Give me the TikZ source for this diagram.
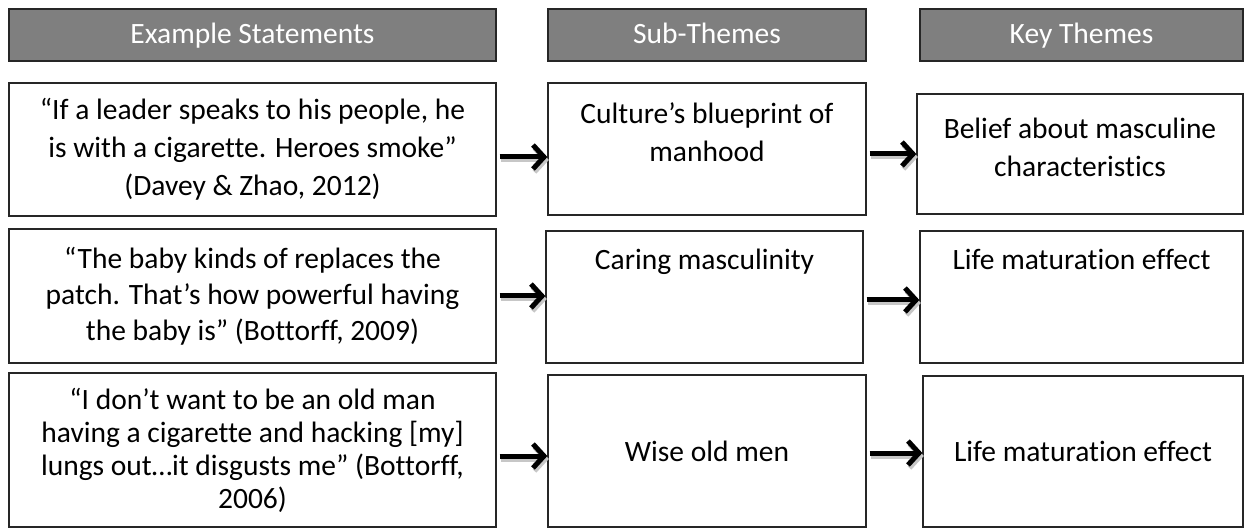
\documentclass[tikz,border=0pt]{standalone}
\usepackage{fontspec}
\setmainfont{Carlito}[Ligatures=NoCommon]
\usetikzlibrary{arrows.meta}
\definecolor{headgray}{HTML}{7F7F7F}
\definecolor{edgegray}{HTML}{262626}

\begin{document}
\begin{tikzpicture}[x=1pt, y=-1pt,
    box/.style={draw=edgegray, line width=1.3pt, rectangle, inner sep=0pt, align=center, font=\fontsize{29.5}{38}\selectfont},
    head/.style={box, fill=headgray, text=white, minimum height=52pt, text height=21.5pt, text depth=4.5pt, font=\fontsize{29.5}{32}\selectfont},
    txt/.style={inner sep=0pt, align=center, anchor=north, font=\fontsize{29.5}{38}\selectfont},
    arr/.style={line width=5pt, -{Straight Barb[length=11pt, width=24pt]}},
    arrshade/.style={arr, black!22}]
    \useasboundingbox (0,0) rectangle (1245,529);

    % --- column heads ---
    \node[head, minimum width=487pt] (h1) at (252.5,35) {Example Statements};
    \node[head, minimum width=318pt] (h2) at (707,35) {Sub-Themes};
    \node[head, minimum width=323pt] (h3) at (1081.5,35) {Key Themes};

    % --- row 1 ---
    \node[box, minimum width=487pt, minimum height=133pt] (s1) at (252.5,149.5)
        {“If a leader speaks to his people, he\\is with a cigarette. Heroes smoke”\\(Davey \& Zhao, 2012)};
    \node[box, minimum width=318pt, minimum height=132pt] (m1) at (707,149) {};
    \node[txt] (m1t) at ([yshift=-20pt]m1.north) {Culture’s blueprint of\\manhood};
    \node[box, minimum width=326pt, minimum height=120pt] (k1) at (1080,154) {};
    \node[txt] (k1t) at ([yshift=-24.5pt]k1.north) {Belief about masculine\\characteristics};

    % --- row 2 ---
    \node[box, minimum width=487pt, minimum height=134pt, font=\fontsize{29.5}{36}\selectfont] (s2) at (252.5,296)
        {“The baby kinds of replaces the\\patch. That’s how powerful having\\the baby is” (Bottorff, 2009)};
    \node[box, minimum width=317pt, minimum height=132pt] (m2) at (704.5,297) {};
    \node[txt] (m2t) at ([yshift=-18.5pt]m2.north) {Caring masculinity};
    \node[box, minimum width=323pt, minimum height=132pt] (k2) at (1081.5,297) {};
    \node[txt] (k2t) at ([yshift=-18.5pt]k2.north) {Life maturation effect};

    % --- row 3 ---
    \node[box, minimum width=487pt, minimum height=154pt, font=\fontsize{29.5}{33}\selectfont] (s3) at (252.5,450)
        {“I don’t want to be an old man\\having a cigarette and hacking [my]\\lungs out…it disgusts me” (Bottorff,\\2006)};
    \node[box, minimum width=318pt, minimum height=152pt] (m3) at (707,451) {Wise old men};
    \node[box, minimum width=320pt, minimum height=151pt] (k3) at (1083,451.5) {Life maturation effect};

    % --- arrows (with a soft shadow) ---
    \foreach \a/\b/\dy in {s1/m1/-7.5, m1/k1/-5, s2/m2/0, m2/k2/-3, s3/m3/-6, m3/k3/-2} {
        \draw[arrshade] ([xshift=4.5pt, yshift=\dy pt-3pt]\a.east) -- ([xshift=1.5pt, yshift=\dy pt-3pt]\a.east -| \b.west);
        \draw[arr] ([xshift=3pt, yshift=\dy pt]\a.east) -- ([yshift=\dy pt]\a.east -| \b.west);
    }
\end{tikzpicture}
\end{document}
